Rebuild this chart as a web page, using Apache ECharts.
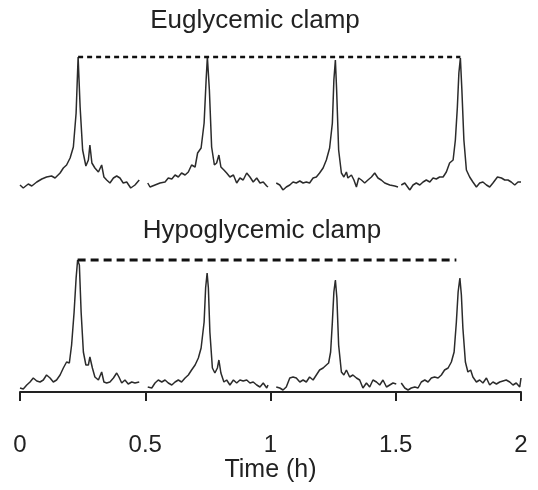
<!DOCTYPE html>
<html>
<head>
<meta charset="utf-8">
<script src="https://cdn.jsdelivr.net/npm/echarts@6/dist/echarts.min.js"></script>
<style>
  html, body { margin: 0; padding: 0; background: #fff; }
  #chart { width: 538px; height: 490px; }
</style>
</head>
<body>
<div id="chart"></div>
<script>
// time in hours, signal in arbitrary units; each panel is 4 recording segments
const euglySeg1 = [[0.0,5],[0.013,2],[0.033,6],[0.047,4],[0.067,8],[0.087,11],[0.106,13],[0.126,14],[0.14,12],[0.16,17],[0.173,22],[0.186,25],[0.2,32],[0.213,43],[0.224,77],[0.232,133],[0.24,83],[0.25,40],[0.263,24],[0.273,30],[0.279,45],[0.287,27],[0.299,22],[0.313,18],[0.326,25],[0.335,13],[0.346,10],[0.359,7],[0.373,12],[0.386,14],[0.399,12],[0.412,7],[0.426,8],[0.442,2],[0.459,5],[0.476,10]];
const euglySeg2 = [[0.51,7],[0.519,3],[0.539,5],[0.559,7],[0.579,8],[0.592,12],[0.606,11],[0.619,15],[0.632,13],[0.645,17],[0.659,15],[0.672,18],[0.685,25],[0.699,23],[0.709,37],[0.723,42],[0.735,67],[0.743,110],[0.748,133],[0.756,100],[0.765,43],[0.776,25],[0.785,27],[0.794,35],[0.802,23],[0.814,20],[0.825,17],[0.838,13],[0.852,15],[0.865,7],[0.878,12],[0.891,10],[0.905,17],[0.918,13],[0.931,8],[0.945,12],[0.958,7],[0.971,8],[0.985,4],[0.99,3]];
const euglySeg3 = [[1.023,7],[1.037,5],[1.05,0],[1.063,3],[1.077,5],[1.09,8],[1.103,7],[1.117,9],[1.13,7],[1.143,8],[1.156,7],[1.17,12],[1.183,13],[1.196,17],[1.21,22],[1.223,30],[1.236,42],[1.247,67],[1.253,110],[1.259,130],[1.264,100],[1.272,40],[1.283,17],[1.293,13],[1.303,18],[1.309,12],[1.323,15],[1.333,10],[1.343,3],[1.352,12],[1.363,10],[1.376,7],[1.389,10],[1.403,13],[1.416,17],[1.429,12],[1.442,10],[1.456,7],[1.476,5],[1.496,4],[1.509,3]];
const euglySeg4 = [[1.522,5],[1.536,7],[1.556,0],[1.569,5],[1.582,7],[1.596,5],[1.609,8],[1.622,10],[1.636,8],[1.649,12],[1.662,11],[1.675,13],[1.689,13],[1.702,18],[1.715,27],[1.729,30],[1.738,50],[1.746,83],[1.752,117],[1.758,132],[1.764,100],[1.772,50],[1.782,20],[1.795,13],[1.808,8],[1.822,3],[1.835,7],[1.848,8],[1.862,5],[1.875,3],[1.888,7],[1.906,13],[1.922,12],[1.935,10],[1.948,10],[1.961,8],[1.975,5],[1.988,8],[2.0,8]];

const hypoSeg1 = [[0.0,4],[0.013,3],[0.027,7],[0.04,10],[0.053,14],[0.067,11],[0.08,10],[0.093,12],[0.106,17],[0.12,14],[0.133,10],[0.146,12],[0.16,17],[0.173,24],[0.186,30],[0.197,29],[0.206,47],[0.216,80],[0.224,114],[0.23,132],[0.237,127],[0.244,80],[0.253,40],[0.263,27],[0.273,27],[0.279,35],[0.289,24],[0.299,15],[0.313,12],[0.326,20],[0.335,10],[0.346,9],[0.359,10],[0.373,14],[0.386,19],[0.395,15],[0.406,9],[0.419,12],[0.432,8],[0.446,10],[0.459,9],[0.476,10]];
const hypoSeg2 = [[0.51,5],[0.526,4],[0.539,9],[0.552,12],[0.566,10],[0.579,12],[0.592,9],[0.606,7],[0.619,10],[0.632,12],[0.645,10],[0.659,14],[0.672,17],[0.685,22],[0.699,27],[0.712,34],[0.723,44],[0.735,70],[0.741,104],[0.747,119],[0.752,104],[0.758,60],[0.768,24],[0.778,19],[0.788,24],[0.794,32],[0.802,19],[0.814,10],[0.825,12],[0.838,7],[0.852,12],[0.865,9],[0.878,12],[0.891,11],[0.905,12],[0.918,9],[0.931,10],[0.945,7],[0.958,5],[0.971,9],[0.985,4],[0.99,7]];
const hypoSeg3 = [[1.023,5],[1.037,4],[1.05,2],[1.063,5],[1.077,14],[1.09,15],[1.103,14],[1.117,10],[1.13,12],[1.143,10],[1.156,15],[1.17,12],[1.183,17],[1.196,22],[1.21,24],[1.223,27],[1.232,29],[1.24,40],[1.247,70],[1.253,100],[1.259,112],[1.265,94],[1.272,47],[1.283,20],[1.293,17],[1.303,22],[1.316,15],[1.329,17],[1.343,14],[1.356,12],[1.369,4],[1.383,9],[1.396,5],[1.409,12],[1.423,10],[1.436,7],[1.449,12],[1.463,5],[1.476,7],[1.489,9],[1.502,8]];
const hypoSeg4 = [[1.522,9],[1.536,4],[1.549,2],[1.562,4],[1.576,5],[1.589,4],[1.602,10],[1.616,12],[1.629,10],[1.642,14],[1.655,15],[1.669,14],[1.682,17],[1.695,22],[1.709,24],[1.722,30],[1.733,40],[1.742,70],[1.749,100],[1.756,114],[1.762,97],[1.768,64],[1.778,30],[1.788,20],[1.799,22],[1.808,15],[1.822,10],[1.835,12],[1.848,9],[1.862,14],[1.875,7],[1.888,10],[1.902,8],[1.915,10],[1.928,11],[1.941,12],[1.955,10],[1.968,7],[1.981,9],[1.995,5],[2.0,14]];

// reference level of the first pulse, drawn as dashed line
const euglyRef = [[0.232,133],[1.758,133]];
const hypoRef = [[0.23,132],[1.742,132]];

const panelTitles = ["Euglycemic clamp", "Hypoglycemic clamp"];
const xTicks = [0, 0.5, 1, 1.5, 2];

const font = "'Liberation Sans', Arial, sans-serif";
const traceColor = "#2b2b2b";

let chart = echarts.init(document.getElementById("chart"));

function traceSeries(segs, idx) {
  return segs.map(function (seg) {
    return {
      type: "line",
      xAxisIndex: idx,
      yAxisIndex: idx,
      data: seg,
      showSymbol: false,
      symbol: "none",
      lineStyle: { color: traceColor, width: 1.5 },
      animation: false,
    };
  });
}

let option = {
  backgroundColor: "#ffffff",
  animation: false,
  grid: [
    { left: 20, right: 17, top: 50, height: 140 },
    { left: 20, right: 17, top: 252, height: 140 },
  ],
  xAxis: [
    { gridIndex: 0, type: "value", min: 0, max: 2, interval: 0.5, show: false },
    {
      gridIndex: 1,
      type: "value",
      min: 0,
      max: 2,
      interval: 0.5,
      offset: 21,
      name: "Time (h)",
      nameLocation: "middle",
      nameGap: 44,
      nameTextStyle: { fontFamily: font, fontSize: 25, color: "#222" },
      axisLine: { lineStyle: { color: "#222", width: 2 } },
      axisTick: { length: 9, lineStyle: { color: "#222", width: 2 } },
      axisLabel: {
        margin: 20,
        fontFamily: font,
        fontSize: 24,
        color: "#222",
        showMaxLabel: true,
        showMinLabel: true,
        formatter: function (v) {
          return xTicks.indexOf(v) >= 0 ? String(v) : "";
        },
      },
      splitLine: { show: false },
    },
  ],
  yAxis: [
    { gridIndex: 0, type: "value", min: 0, max: 140, show: false },
    { gridIndex: 1, type: "value", min: 0, max: 140, show: false },
  ],
  graphic: [
    {
      type: "text",
      x: 255,
      y: 21,
      style: { text: panelTitles[0], font: "26px " + font, fill: "#222", textAlign: "center", textVerticalAlign: "middle" },
    },
    {
      type: "text",
      x: 262,
      y: 231,
      style: { text: panelTitles[1], font: "26px " + font, fill: "#222", textAlign: "center", textVerticalAlign: "middle" },
    },
  ],
  series: []
    .concat(traceSeries([euglySeg1, euglySeg2, euglySeg3, euglySeg4], 0))
    .concat(traceSeries([hypoSeg1, hypoSeg2, hypoSeg3, hypoSeg4], 1))
    .concat([
      {
        type: "line",
        xAxisIndex: 0,
        yAxisIndex: 0,
        data: euglyRef,
        symbol: "none",
        lineStyle: { color: "#111", width: 2.5, type: [5, 4] },
      },
      {
        type: "line",
        xAxisIndex: 1,
        yAxisIndex: 1,
        data: hypoRef,
        symbol: "none",
        lineStyle: { color: "#111", width: 3, type: [8, 5] },
      },
    ]),
};
chart.setOption(option);
</script>
</body>
</html>
